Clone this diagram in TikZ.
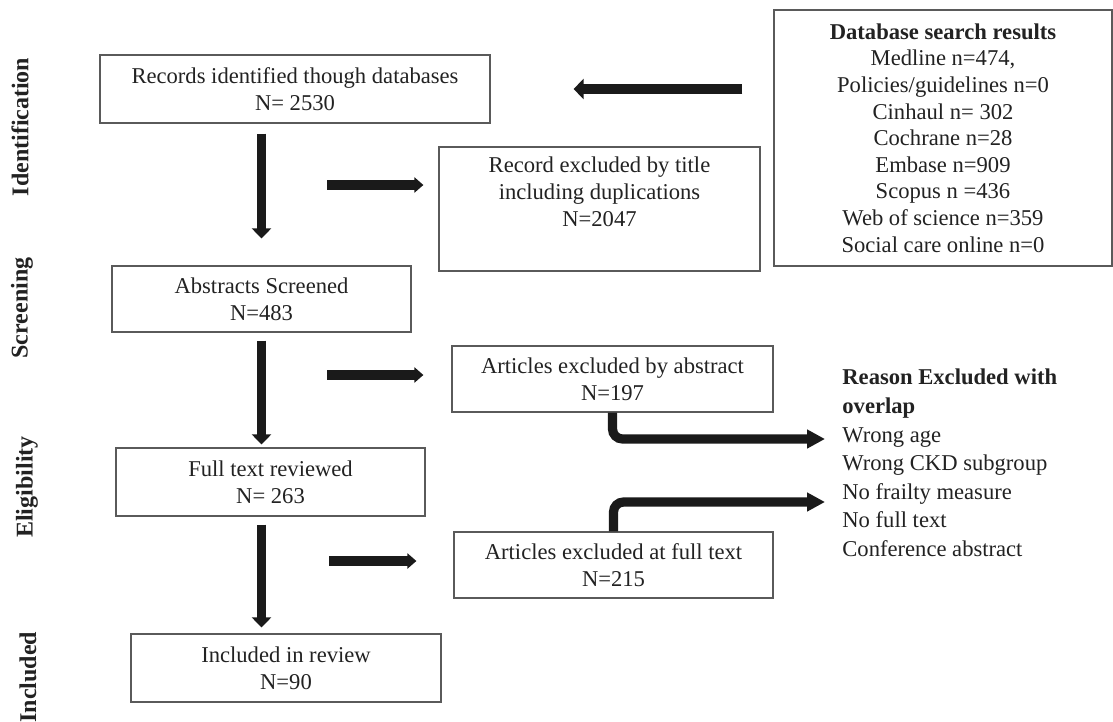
\documentclass[tikz,border=0pt]{standalone}
\usepackage{fontspec}
\setmainfont{Liberation Serif}
\usetikzlibrary{arrows.meta}
\definecolor{boxgray}{HTML}{5A5A5A}
\definecolor{inkgray}{HTML}{222222}
\definecolor{arrowblack}{HTML}{1A1A1A}

\begin{document}
\begin{tikzpicture}[
  x=0.5pt, y=-0.5pt,
  font=\fontsize{11.3}{13.5}\selectfont, text=inkgray,
  box/.style={draw=boxgray, line width=0.6pt, align=center, inner sep=0pt},
  flow/.style={draw=arrowblack, line width=4.6pt, -{Triangle[length=5pt,width=10pt]}},
  side/.style={flow, -{Triangle[length=4.5pt,width=7.5pt]}},
  bent/.style={flow, rounded corners=5pt, -{Triangle[length=9pt,width=9pt]}},
  stage/.style={rotate=90, inner sep=0pt, font=\fontsize{12}{14}\selectfont\bfseries}
]
\useasboundingbox[fill=white] (0,0) rectangle (1113,722);

% stages
\node[stage] (identification) at (20,127) {Identification};
\node[stage] (screening) at (22,308) {Screening};
\node[stage] (eligibility) at (27,487) {Eligibility};
\node[stage] (included) at (28,677) {Included};

% boxes
\node[box, minimum width=195pt, minimum height=34pt] (records) at (295,89)
  {Records identified though databases\\N= 2530};
\node[box, minimum width=169pt, minimum height=128pt, font=\fontsize{11.3}{13.3}\selectfont] (search) at (943,138)
  {\textbf{Database search results}\\Medline n=474,\\Policies/guidelines n=0\\Cinhaul n= 302\\Cochrane n=28\\Embase n=909\\Scopus n =436\\Web of science n=359\\Social care online n=0};
\node[box, minimum width=160.5pt, minimum height=62pt] (bytitle) at (599.5,209)
  {Record excluded by title\\including duplications\\N=2047\\[3.5pt]\mbox{}};
\node[box, minimum width=149.5pt, minimum height=33pt] (abstracts) at (261.5,299)
  {Abstracts Screened\\N=483};
\node[box, minimum width=160.5pt, minimum height=33pt] (byabstract) at (612.5,379)
  {Articles excluded by abstract\\N=197};
\node[box, minimum width=154.5pt, minimum height=34pt] (fulltext) at (270.5,482)
  {Full text reviewed\\N= 263};
\node[box, minimum width=159.5pt, minimum height=33pt] (byfull) at (613.5,565)
  {Articles excluded at full text\\N=215};
\node[box, minimum width=155pt, minimum height=34pt] (review) at (286,668)
  {Included in review\\N=90};

% reasons
\node[anchor=west, align=left, inner sep=0pt, font=\fontsize{11.3}{14.3}\selectfont] (reasons) at (842,463)
  {\textbf{Reason Excluded with}\\\textbf{overlap}\\Wrong age\\Wrong CKD subgroup\\No frailty measure\\No full text\\Conference abstract};

% arrow ends
\coordinate (h1) at (327,185);
\coordinate (h2) at (327,375);
\coordinate (h3) at (329,561);
\coordinate (r1) at (825,439);
\coordinate (r2) at (825,502);

% arrows
\draw[flow, line width=5.4pt, shorten <=15.5pt, shorten >=41.5pt] (search.west |- records.east) -- (records.east);
\draw[flow, -{Triangle[length=5pt,width=9.5pt]}, shorten <=5pt, shorten >=13.5pt] (records.south -| abstracts) -- (abstracts.north);
\draw[flow, -{Triangle[length=5pt,width=9.5pt]}, shorten <=4pt, shorten >=1.5pt] (abstracts.south) -- (fulltext.north -| abstracts);
\draw[flow, -{Triangle[length=5pt,width=9.5pt]}, shorten <=4pt, shorten >=3pt] (fulltext.south -| abstracts) -- (review.north -| abstracts);
\draw[side, shorten >=7.5pt] (h1) -- (h1 -| bytitle.west);
\draw[side, shorten >=14pt] (h2) -- (h2 -| byabstract.west);
\draw[side, shorten >=18.5pt] (h3) -- (h3 -| byfull.west);
\draw[bent] (byabstract.south) |- (r1);
\draw[bent] (byfull.north) |- (r2);
\end{tikzpicture}
\end{document}
